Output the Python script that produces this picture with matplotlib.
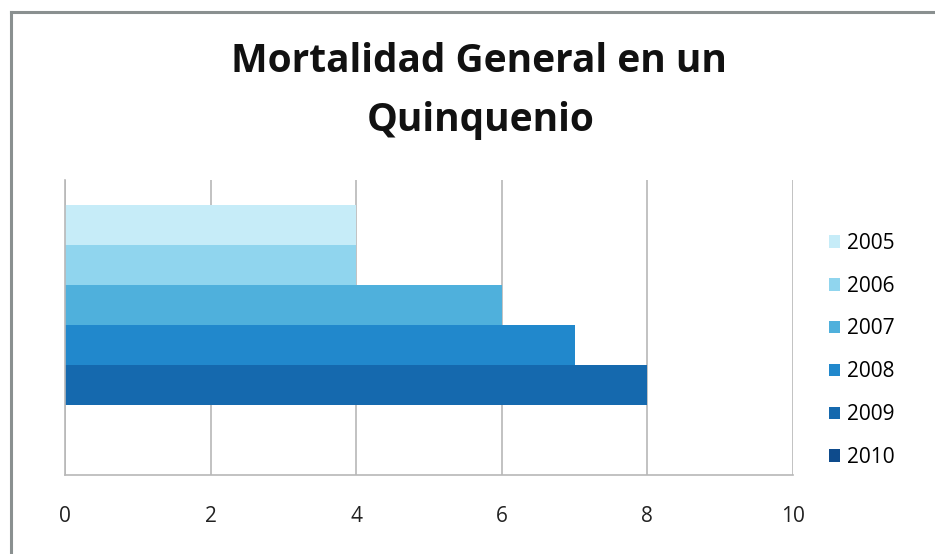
import matplotlib.pyplot as plt
from matplotlib.patches import Patch
from matplotlib.lines import Line2D

years = ["2005", "2006", "2007", "2008", "2009", "2010"]
values = [4, 4, 6, 7, 8, 0]
colors = ["#c6ecf8", "#90d5ee", "#4fb0dc", "#2188cc", "#1569ae", "#0e4b8c"]
x_ticks = [0, 2, 4, 6, 8, 10]

plt.rcParams['font.family'] = ['Open Sans', 'DejaVu Sans']

fig = plt.figure(figsize=(9.35, 5.54), dpi=100)
ax = fig.add_axes([65 / 935, 79 / 554, 728 / 935, 295 / 554])

# first year on top, one bar per year
n = len(years)
ypos = [n - 1 - i for i in range(n)]
ax.barh(ypos, values, height=1.0, color=colors, edgecolor="none", zorder=2)

ax.set_xlim(0, 10)
ax.set_ylim(-1.25, 6.125)
ax.set_xticks(x_ticks)
ax.set_xticklabels([str(t) for t in x_ticks], fontsize=15, color="#222222")
ax.set_yticks([])
ax.tick_params(axis="x", length=0, pad=22)
ax.grid(axis="x", color="#b8b8b8", linewidth=1.2, zorder=0)
for side in ["top", "right"]:
    ax.spines[side].set_visible(False)
for side in ["left", "bottom"]:
    ax.spines[side].set_color("#b8b8b8")
    ax.spines[side].set_linewidth(1.2)

handles = [Patch(facecolor=c, edgecolor="none") for c in colors]
fig.legend(handles, years, loc="upper left", bbox_to_anchor=(810 / 935, 1 - 214 / 554),
           frameon=False, fontsize=15, handlelength=0.55, handleheight=0.55,
           handletextpad=0.35, labelspacing=1.05)

fig.text(0.512, 1 - 62 / 554, "Mortalidad General en un", ha="center", va="center",
         fontsize=28, fontweight="bold", color="#111111")
fig.text(0.514, 1 - 121 / 554, "Quinquenio", ha="center", va="center",
         fontsize=28, fontweight="bold", color="#111111")

# outer chart border
fig.add_artist(Line2D([11 / 935, 11 / 935], [0, 1 - 12 / 554], color="#8a9090", linewidth=2.2))
fig.add_artist(Line2D([11 / 935, 1], [1 - 12 / 554, 1 - 12 / 554], color="#8a9090", linewidth=2.2))

fig.savefig("out.png", dpi=100)
